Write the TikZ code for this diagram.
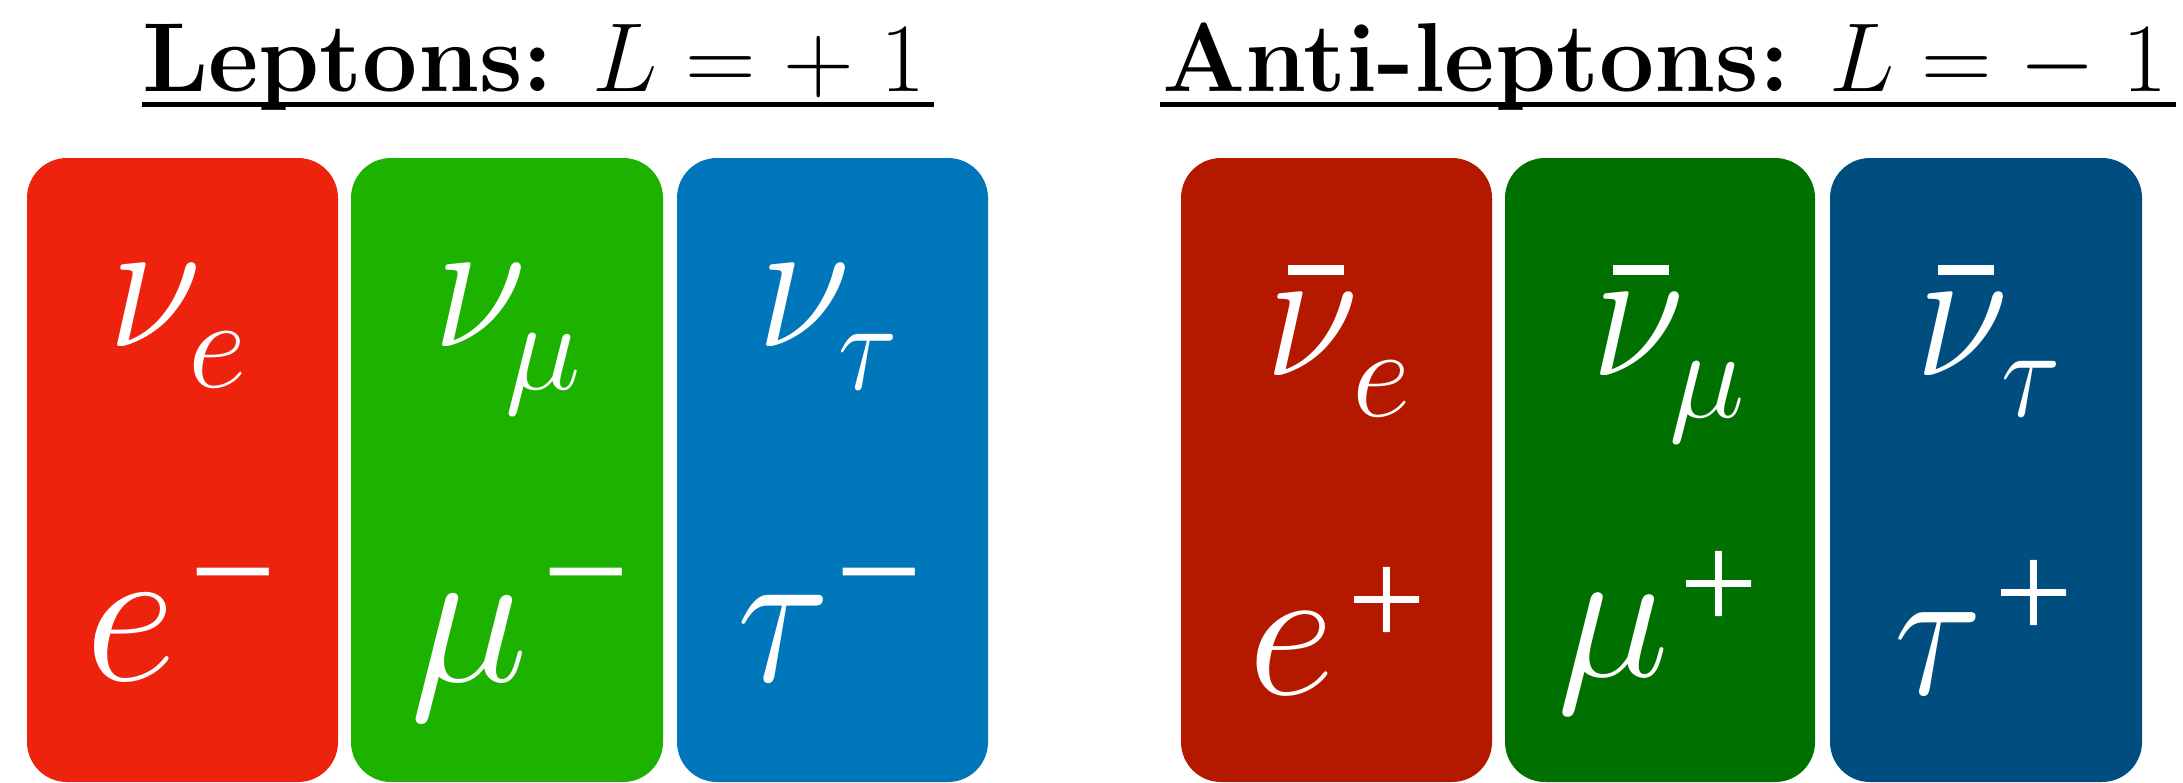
\RequirePackage{fix-cm}
\documentclass[tikz,border=0pt]{standalone}
\usepackage{graphicx}
\usepackage{fontspec}
\newfontfamily\tnr{Liberation Serif}
\newcommand{\mynu}{\scalebox{0.9}[1]{$\nu$}}
\newcommand{\mytau}{\scalebox{0.86}[1]{$\tau$}}
\definecolor{cRed}{RGB}{238,35,14}
\definecolor{cGreen}{RGB}{30,178,0}
\definecolor{cBlue}{RGB}{0,118,187}
\definecolor{cDRed}{RGB}{180,25,0}
\definecolor{cDGreen}{RGB}{0,112,0}
\definecolor{cDBlue}{RGB}{0,78,128}
\begin{document}
\begin{tikzpicture}[x=1pt,y=-1pt,
  box/.style={rounded corners=40pt},
  ttl/.style={inner sep=0pt, anchor=base west, font=\fontsize{98}{98}\selectfont},
  uline/.style={line width=5pt},
  nu/.style={text=white, inner sep=0pt, anchor=base, font=\fontsize{190}{190}\selectfont},
  sub/.style={text=white, inner sep=0pt, anchor=base, font=\fontsize{128}{128}\selectfont},
  big/.style={text=white, inner sep=0pt, anchor=base, font=\fontsize{200}{200}\selectfont},
  bigr/.style={text=white, inner sep=0pt, anchor=base, font=\fontsize{190}{190}\selectfont},
  minus/.style={text=white, inner sep=0pt, anchor=base, font=\tnr\fontsize{155}{155}\selectfont},
  plus/.style={text=white, inner sep=0pt, anchor=base, font=\tnr\fontsize{140}{140}\selectfont},
  bar/.style={fill=white}]
\useasboundingbox (0,0) rectangle (2183,782);
\fill[white] (0,0) rectangle (2183,782);

% titles
\node[ttl] (t1) at (142,91) {\textbf{Leptons:} $L = +\;1$};
\node[ttl] (t2) at (1162,91) {\textbf{Anti-leptons:} $L = -\;1$};
\draw[uline] ([yshift=-13.5pt]t1.base west) -- ([xshift=8pt,yshift=-13.5pt]t1.base east);
\draw[uline] ([xshift=-2pt,yshift=-13.5pt]t2.base west) -- ([xshift=8pt,yshift=-13.5pt]t2.base east);

% boxes
\fill[cRed,box] (27,158) rectangle (338,782);
\fill[cGreen,box] (351,158) rectangle (663,782);
\fill[cBlue,box] (677,158) rectangle (988,782);
\fill[cDRed,box] (1181,158) rectangle (1492,782);
\fill[cDGreen,box] (1505,158) rectangle (1815,782);
\fill[cDBlue,box] (1830,158) rectangle (2142,782);

% leptons: top row
\node[nu] (nu1) at (155,346) {\mynu};
\node[sub] (s1) at (217.5,387) {$e$};
\node[nu] (nu2) at (480,346) {\mynu};
\node[sub] (s2) at (543.5,389) {$\mu$};
\node[nu] (nu3) at (804,346) {\mynu};
\node[sub] (s3) at (868,389) {\mytau};
% leptons: bottom row
\node[big] (e1) at (131,680) {$e$};
\node[minus] (m1) at (233.5,623) {−};
\node[big] (mu1) at (469.5,681) {$\mu$};
\node[minus] (m2) at (586.5,623) {−};
\node[big] (tau1) at (784,681) {\mytau};
\node[minus] (m3) at (879.5,623) {−};

% anti-leptons: top row
\fill[bar] (1288,265) rectangle (1344,275);
\fill[bar] (1613,265) rectangle (1669,275);
\fill[bar] (1938,265) rectangle (1994,275);
\node[nu] (nu4) at (1312,375) {\mynu};
\node[sub] (s4) at (1382,416) {$e$};
\node[nu] (nu5) at (1638,375) {\mynu};
\node[sub] (s5) at (1707.5,417) {$\mu$};
\node[nu] (nu6) at (1962,375) {\mynu};
\node[sub] (s6) at (2031.5,416) {\mytau};
% anti-leptons: bottom row
\node[bigr] (e2) at (1291.5,694) {$e$};
\node[plus] (p1) at (1387,646) {+};
\node[bigr] (mu2) at (1613.5,676) {$\mu$};
\node[plus] (p2) at (1719,630) {+};
\node[bigr] (tau2) at (1938,694) {\mytau};
\node[plus] (p3) at (2033.5,639) {+};
\end{tikzpicture}
\end{document}
